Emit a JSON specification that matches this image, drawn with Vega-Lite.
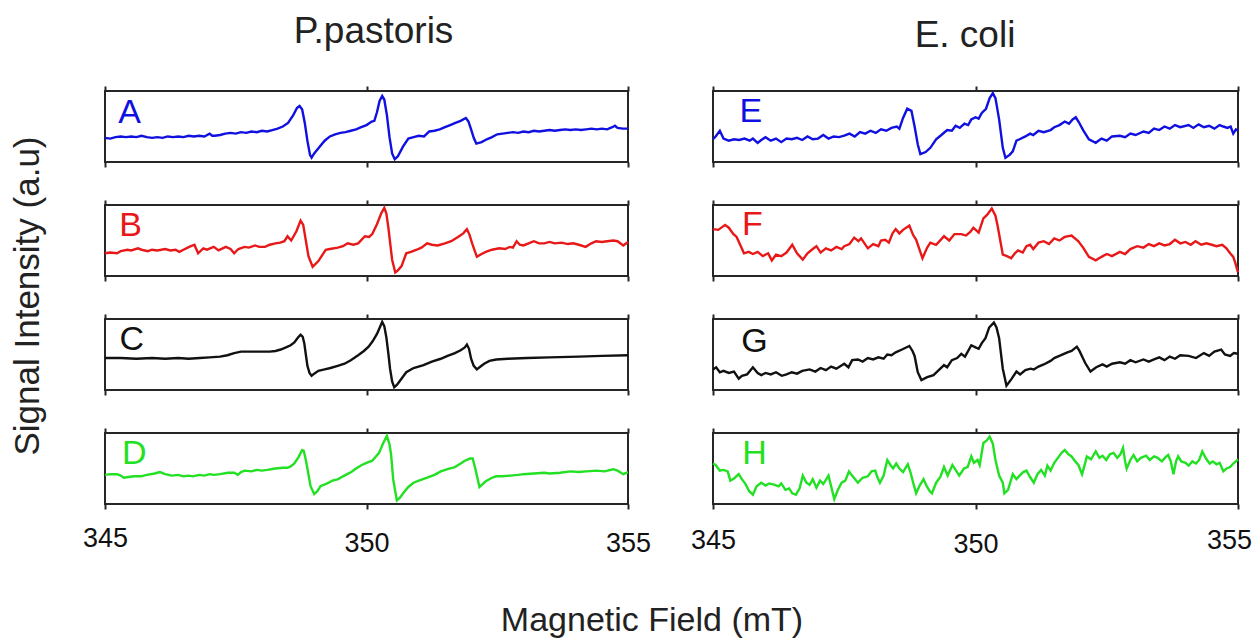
{
  "$schema": "https://vega.github.io/schema/vega-lite/v6.json",
  "background": "white",
  "padding": {"left": 11, "top": 13, "right": 0, "bottom": 0},
  "config": {
    "font": "Liberation Sans",
    "view": {"stroke": "#262626", "strokeWidth": 2},
    "axis": {"grid": false, "domain": false, "ticks": true, "tickSize": 5, "tickWidth": 2, "tickColor": "#262626", "labelFont": "Liberation Sans", "labelFontSize": 27, "labelColor": "#111111", "labelPadding": 18, "labelFlush": false},
    "title": {"font": "Liberation Sans", "fontWeight": "normal", "fontSize": 37, "color": "#222222"},
    "text": {"font": "Liberation Sans"}
  },
  "datasets": {
    "A": [{"field":345.0,"signal":34},{"field":345.1,"signal":33},{"field":345.2,"signal":35},{"field":345.3,"signal":36},{"field":345.4,"signal":35},{"field":345.5,"signal":36},{"field":345.6,"signal":35},{"field":345.7,"signal":37},{"field":345.8,"signal":35},{"field":345.9,"signal":34},{"field":346.0,"signal":35},{"field":346.1,"signal":34},{"field":346.2,"signal":36},{"field":346.3,"signal":35},{"field":346.4,"signal":36},{"field":346.5,"signal":35},{"field":346.6,"signal":37},{"field":346.7,"signal":36},{"field":346.8,"signal":37},{"field":346.9,"signal":36},{"field":347.0,"signal":40},{"field":347.05,"signal":37},{"field":347.1,"signal":37},{"field":347.2,"signal":38},{"field":347.3,"signal":40},{"field":347.4,"signal":41},{"field":347.5,"signal":40},{"field":347.6,"signal":42},{"field":347.7,"signal":41},{"field":347.8,"signal":43},{"field":347.9,"signal":42},{"field":348.0,"signal":44},{"field":348.1,"signal":43},{"field":348.2,"signal":45},{"field":348.3,"signal":47},{"field":348.4,"signal":50},{"field":348.5,"signal":55},{"field":348.6,"signal":66},{"field":348.67,"signal":76},{"field":348.72,"signal":79},{"field":348.77,"signal":74},{"field":348.82,"signal":55},{"field":348.87,"signal":30},{"field":348.92,"signal":10},{"field":348.95,"signal":6},{"field":349.0,"signal":12},{"field":349.1,"signal":21},{"field":349.2,"signal":30},{"field":349.3,"signal":36},{"field":349.4,"signal":39},{"field":349.5,"signal":41},{"field":349.6,"signal":42},{"field":349.7,"signal":44},{"field":349.8,"signal":46},{"field":349.9,"signal":49},{"field":350.0,"signal":52},{"field":350.1,"signal":57},{"field":350.15,"signal":58},{"field":350.2,"signal":70},{"field":350.25,"signal":86},{"field":350.3,"signal":93},{"field":350.34,"signal":88},{"field":350.39,"signal":66},{"field":350.44,"signal":35},{"field":350.49,"signal":12},{"field":350.54,"signal":4},{"field":350.6,"signal":8},{"field":350.7,"signal":22},{"field":350.8,"signal":33},{"field":350.9,"signal":35},{"field":351.0,"signal":37},{"field":351.1,"signal":36},{"field":351.2,"signal":43},{"field":351.3,"signal":44},{"field":351.4,"signal":46},{"field":351.5,"signal":49},{"field":351.6,"signal":52},{"field":351.7,"signal":55},{"field":351.8,"signal":58},{"field":351.9,"signal":62},{"field":351.95,"signal":57},{"field":352.0,"signal":46},{"field":352.05,"signal":34},{"field":352.1,"signal":26},{"field":352.2,"signal":28},{"field":352.3,"signal":32},{"field":352.4,"signal":35},{"field":352.5,"signal":39},{"field":352.6,"signal":40},{"field":352.7,"signal":41},{"field":352.8,"signal":42},{"field":352.9,"signal":41},{"field":353.0,"signal":43},{"field":353.1,"signal":42},{"field":353.2,"signal":44},{"field":353.3,"signal":43},{"field":353.4,"signal":44},{"field":353.5,"signal":45},{"field":353.6,"signal":44},{"field":353.7,"signal":45},{"field":353.8,"signal":46},{"field":353.9,"signal":45},{"field":354.0,"signal":46},{"field":354.1,"signal":45},{"field":354.2,"signal":46},{"field":354.3,"signal":47},{"field":354.4,"signal":46},{"field":354.5,"signal":47},{"field":354.6,"signal":46},{"field":354.7,"signal":49},{"field":354.75,"signal":51},{"field":354.8,"signal":48},{"field":354.9,"signal":47},{"field":355.0,"signal":47}],
    "B": [{"field":345.0,"signal":32},{"field":345.1,"signal":33},{"field":345.23,"signal":32},{"field":345.3,"signal":35},{"field":345.43,"signal":37},{"field":345.5,"signal":36},{"field":345.63,"signal":39},{"field":345.7,"signal":37},{"field":345.82,"signal":35},{"field":345.9,"signal":37},{"field":346.0,"signal":36},{"field":346.15,"signal":38},{"field":346.25,"signal":36},{"field":346.35,"signal":37},{"field":346.42,"signal":34},{"field":346.5,"signal":37},{"field":346.61,"signal":41},{"field":346.71,"signal":44},{"field":346.78,"signal":32},{"field":346.88,"signal":39},{"field":346.95,"signal":37},{"field":347.08,"signal":41},{"field":347.17,"signal":36},{"field":347.25,"signal":39},{"field":347.31,"signal":41},{"field":347.4,"signal":38},{"field":347.47,"signal":32},{"field":347.55,"signal":38},{"field":347.67,"signal":41},{"field":347.75,"signal":40},{"field":347.87,"signal":43},{"field":347.95,"signal":41},{"field":348.06,"signal":41},{"field":348.15,"signal":44},{"field":348.26,"signal":46},{"field":348.35,"signal":47},{"field":348.43,"signal":49},{"field":348.49,"signal":56},{"field":348.56,"signal":50},{"field":348.66,"signal":63},{"field":348.74,"signal":78},{"field":348.79,"signal":72},{"field":348.84,"signal":50},{"field":348.89,"signal":28},{"field":348.97,"signal":13},{"field":349.08,"signal":21},{"field":349.22,"signal":37},{"field":349.3,"signal":38},{"field":349.45,"signal":40},{"field":349.55,"signal":42},{"field":349.64,"signal":46},{"field":349.75,"signal":44},{"field":349.84,"signal":46},{"field":349.97,"signal":56},{"field":350.05,"signal":55},{"field":350.11,"signal":59},{"field":350.2,"signal":73},{"field":350.28,"signal":88},{"field":350.34,"signal":96},{"field":350.38,"signal":88},{"field":350.42,"signal":67},{"field":350.49,"signal":23},{"field":350.55,"signal":5},{"field":350.6,"signal":8},{"field":350.67,"signal":14},{"field":350.76,"signal":32},{"field":350.85,"signal":34},{"field":350.96,"signal":37},{"field":351.05,"signal":40},{"field":351.16,"signal":46},{"field":351.25,"signal":44},{"field":351.36,"signal":43},{"field":351.5,"signal":46},{"field":351.62,"signal":49},{"field":351.75,"signal":55},{"field":351.85,"signal":60},{"field":351.92,"signal":66},{"field":351.97,"signal":58},{"field":352.02,"signal":46},{"field":352.11,"signal":27},{"field":352.2,"signal":31},{"field":352.28,"signal":34},{"field":352.4,"signal":37},{"field":352.54,"signal":39},{"field":352.65,"signal":38},{"field":352.74,"signal":41},{"field":352.8,"signal":40},{"field":352.87,"signal":49},{"field":352.93,"signal":44},{"field":353.0,"signal":43},{"field":353.1,"signal":46},{"field":353.2,"signal":49},{"field":353.3,"signal":46},{"field":353.4,"signal":46},{"field":353.5,"signal":48},{"field":353.6,"signal":46},{"field":353.73,"signal":47},{"field":353.85,"signal":45},{"field":353.95,"signal":46},{"field":354.06,"signal":44},{"field":354.19,"signal":41},{"field":354.3,"signal":46},{"field":354.39,"signal":49},{"field":354.5,"signal":48},{"field":354.6,"signal":49},{"field":354.72,"signal":50},{"field":354.8,"signal":49},{"field":354.91,"signal":43},{"field":355.0,"signal":48}],
    "C": [{"field":345.0,"signal":45},{"field":345.3,"signal":45},{"field":345.6,"signal":44},{"field":345.9,"signal":45},{"field":346.15,"signal":44},{"field":346.4,"signal":45},{"field":346.6,"signal":44},{"field":346.81,"signal":45},{"field":347.0,"signal":46},{"field":347.2,"signal":47},{"field":347.34,"signal":49},{"field":347.47,"signal":52},{"field":347.6,"signal":54},{"field":347.8,"signal":54},{"field":348.0,"signal":54},{"field":348.15,"signal":54},{"field":348.26,"signal":55},{"field":348.36,"signal":57},{"field":348.46,"signal":60},{"field":348.55,"signal":63},{"field":348.62,"signal":67},{"field":348.69,"signal":74},{"field":348.74,"signal":78},{"field":348.78,"signal":75},{"field":348.81,"signal":66},{"field":348.84,"signal":50},{"field":348.87,"signal":34},{"field":348.91,"signal":24},{"field":348.95,"signal":20},{"field":349.0,"signal":23},{"field":349.08,"signal":27},{"field":349.2,"signal":29},{"field":349.31,"signal":31},{"field":349.45,"signal":34},{"field":349.58,"signal":37},{"field":349.7,"signal":42},{"field":349.84,"signal":49},{"field":349.95,"signal":55},{"field":350.04,"signal":61},{"field":350.12,"signal":69},{"field":350.2,"signal":79},{"field":350.26,"signal":89},{"field":350.3,"signal":96},{"field":350.34,"signal":90},{"field":350.38,"signal":74},{"field":350.42,"signal":50},{"field":350.45,"signal":30},{"field":350.49,"signal":12},{"field":350.53,"signal":4},{"field":350.58,"signal":7},{"field":350.63,"signal":12},{"field":350.7,"signal":19},{"field":350.76,"signal":25},{"field":350.9,"signal":31},{"field":351.09,"signal":35},{"field":351.25,"signal":40},{"field":351.42,"signal":44},{"field":351.55,"signal":48},{"field":351.69,"signal":52},{"field":351.8,"signal":56},{"field":351.88,"signal":60},{"field":351.92,"signal":64},{"field":351.96,"signal":58},{"field":352.0,"signal":44},{"field":352.05,"signal":34},{"field":352.11,"signal":29},{"field":352.18,"signal":33},{"field":352.25,"signal":37},{"field":352.35,"signal":41},{"field":352.48,"signal":43},{"field":352.7,"signal":44},{"field":353.07,"signal":45},{"field":353.5,"signal":46},{"field":354.06,"signal":47},{"field":354.5,"signal":48},{"field":355.0,"signal":49}],
    "D": [{"field":345.0,"signal":41},{"field":345.1,"signal":42},{"field":345.23,"signal":42},{"field":345.3,"signal":40},{"field":345.36,"signal":37},{"field":345.45,"signal":38},{"field":345.55,"signal":39},{"field":345.69,"signal":39},{"field":345.8,"signal":41},{"field":345.95,"signal":43},{"field":346.05,"signal":45},{"field":346.15,"signal":42},{"field":346.28,"signal":40},{"field":346.4,"signal":41},{"field":346.5,"signal":39},{"field":346.6,"signal":40},{"field":346.68,"signal":39},{"field":346.8,"signal":41},{"field":346.9,"signal":40},{"field":347.0,"signal":42},{"field":347.08,"signal":41},{"field":347.2,"signal":42},{"field":347.35,"signal":44},{"field":347.47,"signal":44},{"field":347.54,"signal":41},{"field":347.6,"signal":45},{"field":347.67,"signal":47},{"field":347.8,"signal":46},{"field":347.9,"signal":48},{"field":348.0,"signal":47},{"field":348.1,"signal":48},{"field":348.26,"signal":50},{"field":348.4,"signal":51},{"field":348.49,"signal":51},{"field":348.55,"signal":53},{"field":348.62,"signal":57},{"field":348.7,"signal":66},{"field":348.77,"signal":76},{"field":348.8,"signal":75},{"field":348.84,"signal":62},{"field":348.87,"signal":50},{"field":348.93,"signal":25},{"field":349.0,"signal":14},{"field":349.06,"signal":18},{"field":349.12,"signal":25},{"field":349.25,"signal":29},{"field":349.35,"signal":33},{"field":349.46,"signal":35},{"field":349.55,"signal":39},{"field":349.63,"signal":42},{"field":349.71,"signal":45},{"field":349.8,"signal":50},{"field":349.91,"signal":55},{"field":350.0,"signal":58},{"field":350.11,"signal":61},{"field":350.24,"signal":72},{"field":350.32,"signal":86},{"field":350.39,"signal":96},{"field":350.44,"signal":84},{"field":350.47,"signal":70},{"field":350.51,"signal":35},{"field":350.58,"signal":5},{"field":350.64,"signal":9},{"field":350.7,"signal":15},{"field":350.8,"signal":24},{"field":350.9,"signal":30},{"field":351.0,"signal":33},{"field":351.16,"signal":37},{"field":351.3,"signal":41},{"field":351.42,"signal":46},{"field":351.55,"signal":49},{"field":351.69,"signal":52},{"field":351.8,"signal":57},{"field":351.88,"signal":61},{"field":351.98,"signal":64},{"field":352.03,"signal":64},{"field":352.08,"signal":50},{"field":352.16,"signal":24},{"field":352.22,"signal":28},{"field":352.28,"signal":32},{"field":352.4,"signal":37},{"field":352.48,"signal":39},{"field":352.6,"signal":39},{"field":352.75,"signal":40},{"field":352.9,"signal":41},{"field":353.0,"signal":42},{"field":353.2,"signal":43},{"field":353.4,"signal":44},{"field":353.5,"signal":43},{"field":353.7,"signal":44},{"field":353.9,"signal":46},{"field":354.06,"signal":45},{"field":354.2,"signal":46},{"field":354.4,"signal":47},{"field":354.55,"signal":46},{"field":354.72,"signal":49},{"field":354.8,"signal":47},{"field":354.91,"signal":42},{"field":355.0,"signal":45}],
    "E": [{"field":345.0,"signal":32},{"field":345.05,"signal":36},{"field":345.13,"signal":44},{"field":345.2,"signal":33},{"field":345.3,"signal":30},{"field":345.4,"signal":32},{"field":345.5,"signal":31},{"field":345.6,"signal":33},{"field":345.7,"signal":30},{"field":345.76,"signal":33},{"field":345.85,"signal":27},{"field":345.92,"signal":31},{"field":346.0,"signal":35},{"field":346.1,"signal":30},{"field":346.2,"signal":33},{"field":346.3,"signal":28},{"field":346.4,"signal":33},{"field":346.5,"signal":32},{"field":346.6,"signal":34},{"field":346.7,"signal":31},{"field":346.8,"signal":36},{"field":346.9,"signal":32},{"field":347.0,"signal":33},{"field":347.1,"signal":38},{"field":347.2,"signal":33},{"field":347.3,"signal":36},{"field":347.4,"signal":35},{"field":347.5,"signal":37},{"field":347.6,"signal":40},{"field":347.7,"signal":36},{"field":347.8,"signal":42},{"field":347.9,"signal":40},{"field":348.0,"signal":44},{"field":348.1,"signal":41},{"field":348.2,"signal":46},{"field":348.3,"signal":44},{"field":348.4,"signal":48},{"field":348.5,"signal":50},{"field":348.55,"signal":47},{"field":348.62,"signal":62},{"field":348.7,"signal":75},{"field":348.78,"signal":72},{"field":348.84,"signal":50},{"field":348.9,"signal":25},{"field":348.95,"signal":11},{"field":349.05,"signal":14},{"field":349.14,"signal":20},{"field":349.25,"signal":32},{"field":349.35,"signal":38},{"field":349.46,"signal":45},{"field":349.55,"signal":44},{"field":349.62,"signal":51},{"field":349.7,"signal":48},{"field":349.79,"signal":54},{"field":349.86,"signal":52},{"field":349.92,"signal":60},{"field":350.0,"signal":63},{"field":350.06,"signal":61},{"field":350.12,"signal":69},{"field":350.2,"signal":75},{"field":350.27,"signal":90},{"field":350.33,"signal":97},{"field":350.38,"signal":90},{"field":350.45,"signal":60},{"field":350.52,"signal":20},{"field":350.57,"signal":6},{"field":350.65,"signal":10},{"field":350.71,"signal":15},{"field":350.78,"signal":30},{"field":350.84,"signal":32},{"field":350.95,"signal":36},{"field":351.04,"signal":40},{"field":351.1,"signal":38},{"field":351.2,"signal":44},{"field":351.3,"signal":42},{"field":351.43,"signal":45},{"field":351.5,"signal":49},{"field":351.6,"signal":52},{"field":351.7,"signal":57},{"field":351.78,"signal":54},{"field":351.85,"signal":60},{"field":351.91,"signal":63},{"field":351.97,"signal":56},{"field":352.05,"signal":45},{"field":352.16,"signal":32},{"field":352.29,"signal":27},{"field":352.4,"signal":33},{"field":352.5,"signal":30},{"field":352.6,"signal":36},{"field":352.75,"signal":37},{"field":352.85,"signal":35},{"field":352.95,"signal":40},{"field":353.05,"signal":38},{"field":353.2,"signal":43},{"field":353.3,"signal":41},{"field":353.4,"signal":47},{"field":353.5,"signal":45},{"field":353.6,"signal":50},{"field":353.7,"signal":47},{"field":353.8,"signal":52},{"field":353.9,"signal":49},{"field":354.06,"signal":52},{"field":354.15,"signal":48},{"field":354.25,"signal":53},{"field":354.35,"signal":49},{"field":354.45,"signal":51},{"field":354.55,"signal":47},{"field":354.65,"signal":52},{"field":354.72,"signal":50},{"field":354.8,"signal":48},{"field":354.86,"signal":50},{"field":354.91,"signal":40},{"field":354.96,"signal":46},{"field":355.0,"signal":44}],
    "F": [{"field":345.0,"signal":66},{"field":345.1,"signal":65},{"field":345.23,"signal":72},{"field":345.3,"signal":68},{"field":345.39,"signal":59},{"field":345.45,"signal":55},{"field":345.53,"signal":42},{"field":345.59,"signal":32},{"field":345.68,"signal":34},{"field":345.76,"signal":31},{"field":345.85,"signal":34},{"field":345.95,"signal":28},{"field":346.05,"signal":32},{"field":346.12,"signal":22},{"field":346.2,"signal":30},{"field":346.3,"signal":28},{"field":346.4,"signal":33},{"field":346.51,"signal":44},{"field":346.6,"signal":32},{"field":346.71,"signal":23},{"field":346.8,"signal":32},{"field":346.9,"signal":38},{"field":346.97,"signal":42},{"field":347.05,"signal":33},{"field":347.15,"signal":39},{"field":347.25,"signal":36},{"field":347.35,"signal":41},{"field":347.45,"signal":38},{"field":347.5,"signal":42},{"field":347.6,"signal":45},{"field":347.69,"signal":54},{"field":347.77,"signal":49},{"field":347.82,"signal":53},{"field":347.95,"signal":39},{"field":348.05,"signal":45},{"field":348.15,"signal":42},{"field":348.2,"signal":50},{"field":348.28,"signal":51},{"field":348.35,"signal":47},{"field":348.42,"signal":60},{"field":348.48,"signal":66},{"field":348.55,"signal":60},{"field":348.62,"signal":65},{"field":348.74,"signal":71},{"field":348.81,"signal":58},{"field":348.87,"signal":51},{"field":348.99,"signal":25},{"field":349.08,"signal":40},{"field":349.14,"signal":47},{"field":349.25,"signal":44},{"field":349.35,"signal":52},{"field":349.4,"signal":56},{"field":349.5,"signal":50},{"field":349.6,"signal":59},{"field":349.73,"signal":59},{"field":349.82,"signal":57},{"field":349.9,"signal":62},{"field":349.96,"signal":68},{"field":350.06,"signal":61},{"field":350.15,"signal":81},{"field":350.22,"signal":86},{"field":350.31,"signal":95},{"field":350.38,"signal":85},{"field":350.42,"signal":71},{"field":350.52,"signal":30},{"field":350.6,"signal":28},{"field":350.68,"signal":25},{"field":350.75,"signal":32},{"field":350.81,"signal":36},{"field":350.9,"signal":33},{"field":350.97,"signal":42},{"field":351.04,"signal":44},{"field":351.1,"signal":38},{"field":351.2,"signal":47},{"field":351.3,"signal":49},{"field":351.4,"signal":45},{"field":351.5,"signal":53},{"field":351.6,"signal":50},{"field":351.7,"signal":55},{"field":351.83,"signal":57},{"field":351.96,"signal":49},{"field":352.05,"signal":40},{"field":352.16,"signal":27},{"field":352.29,"signal":22},{"field":352.4,"signal":27},{"field":352.5,"signal":31},{"field":352.6,"signal":28},{"field":352.75,"signal":34},{"field":352.85,"signal":31},{"field":352.95,"signal":38},{"field":353.08,"signal":42},{"field":353.2,"signal":40},{"field":353.3,"signal":45},{"field":353.4,"signal":42},{"field":353.5,"signal":46},{"field":353.6,"signal":43},{"field":353.7,"signal":45},{"field":353.8,"signal":51},{"field":353.9,"signal":46},{"field":354.0,"signal":48},{"field":354.1,"signal":44},{"field":354.19,"signal":49},{"field":354.3,"signal":44},{"field":354.4,"signal":46},{"field":354.5,"signal":44},{"field":354.59,"signal":42},{"field":354.7,"signal":44},{"field":354.78,"signal":39},{"field":354.85,"signal":32},{"field":354.91,"signal":27},{"field":354.95,"signal":18},{"field":355.0,"signal":5}],
    "G": [{"field":345.0,"signal":29},{"field":345.06,"signal":32},{"field":345.13,"signal":25},{"field":345.2,"signal":27},{"field":345.3,"signal":24},{"field":345.4,"signal":26},{"field":345.49,"signal":16},{"field":345.55,"signal":20},{"field":345.65,"signal":22},{"field":345.76,"signal":32},{"field":345.85,"signal":24},{"field":345.92,"signal":21},{"field":346.0,"signal":24},{"field":346.1,"signal":22},{"field":346.2,"signal":25},{"field":346.31,"signal":20},{"field":346.4,"signal":22},{"field":346.5,"signal":25},{"field":346.6,"signal":23},{"field":346.7,"signal":27},{"field":346.84,"signal":29},{"field":346.95,"signal":26},{"field":347.05,"signal":31},{"field":347.15,"signal":28},{"field":347.25,"signal":33},{"field":347.35,"signal":30},{"field":347.5,"signal":37},{"field":347.58,"signal":32},{"field":347.65,"signal":42},{"field":347.76,"signal":43},{"field":347.85,"signal":40},{"field":347.95,"signal":45},{"field":348.05,"signal":43},{"field":348.15,"signal":46},{"field":348.25,"signal":44},{"field":348.32,"signal":50},{"field":348.4,"signal":49},{"field":348.48,"signal":53},{"field":348.6,"signal":57},{"field":348.74,"signal":62},{"field":348.8,"signal":55},{"field":348.84,"signal":48},{"field":348.9,"signal":25},{"field":348.97,"signal":14},{"field":349.08,"signal":18},{"field":349.2,"signal":21},{"field":349.3,"signal":28},{"field":349.4,"signal":35},{"field":349.46,"signal":32},{"field":349.55,"signal":42},{"field":349.65,"signal":45},{"field":349.73,"signal":51},{"field":349.8,"signal":47},{"field":349.92,"signal":63},{"field":350.0,"signal":60},{"field":350.06,"signal":58},{"field":350.12,"signal":66},{"field":350.19,"signal":73},{"field":350.26,"signal":88},{"field":350.35,"signal":95},{"field":350.4,"signal":88},{"field":350.45,"signal":73},{"field":350.52,"signal":30},{"field":350.59,"signal":6},{"field":350.68,"signal":15},{"field":350.78,"signal":26},{"field":350.85,"signal":22},{"field":350.95,"signal":28},{"field":351.05,"signal":30},{"field":351.11,"signal":29},{"field":351.2,"signal":33},{"field":351.3,"signal":36},{"field":351.43,"signal":41},{"field":351.5,"signal":45},{"field":351.63,"signal":49},{"field":351.75,"signal":53},{"field":351.83,"signal":55},{"field":351.93,"signal":61},{"field":351.98,"signal":55},{"field":352.09,"signal":38},{"field":352.19,"signal":26},{"field":352.3,"signal":32},{"field":352.42,"signal":36},{"field":352.5,"signal":33},{"field":352.6,"signal":37},{"field":352.75,"signal":39},{"field":352.85,"signal":37},{"field":352.95,"signal":42},{"field":353.05,"signal":39},{"field":353.2,"signal":43},{"field":353.3,"signal":40},{"field":353.4,"signal":43},{"field":353.5,"signal":46},{"field":353.6,"signal":42},{"field":353.7,"signal":47},{"field":353.8,"signal":44},{"field":353.9,"signal":49},{"field":354.06,"signal":48},{"field":354.2,"signal":45},{"field":354.35,"signal":52},{"field":354.45,"signal":48},{"field":354.55,"signal":54},{"field":354.68,"signal":57},{"field":354.75,"signal":50},{"field":354.85,"signal":48},{"field":354.92,"signal":52},{"field":355.0,"signal":51}],
    "H": [{"field":345.0,"signal":57},{"field":345.05,"signal":55},{"field":345.13,"signal":47},{"field":345.2,"signal":48},{"field":345.28,"signal":46},{"field":345.33,"signal":33},{"field":345.4,"signal":36},{"field":345.49,"signal":42},{"field":345.55,"signal":35},{"field":345.62,"signal":28},{"field":345.69,"signal":18},{"field":345.76,"signal":13},{"field":345.83,"signal":25},{"field":345.92,"signal":30},{"field":346.0,"signal":26},{"field":346.07,"signal":29},{"field":346.18,"signal":27},{"field":346.25,"signal":25},{"field":346.3,"signal":29},{"field":346.38,"signal":20},{"field":346.45,"signal":22},{"field":346.51,"signal":15},{"field":346.58,"signal":13},{"field":346.65,"signal":22},{"field":346.71,"signal":40},{"field":346.78,"signal":30},{"field":346.84,"signal":27},{"field":346.9,"signal":35},{"field":346.97,"signal":23},{"field":347.04,"signal":33},{"field":347.1,"signal":28},{"field":347.2,"signal":40},{"field":347.25,"signal":25},{"field":347.31,"signal":7},{"field":347.38,"signal":20},{"field":347.45,"signal":30},{"field":347.52,"signal":33},{"field":347.59,"signal":46},{"field":347.65,"signal":40},{"field":347.76,"signal":30},{"field":347.85,"signal":37},{"field":347.95,"signal":39},{"field":348.02,"signal":46},{"field":348.09,"signal":47},{"field":348.13,"signal":38},{"field":348.18,"signal":30},{"field":348.25,"signal":40},{"field":348.32,"signal":62},{"field":348.38,"signal":55},{"field":348.43,"signal":50},{"field":348.49,"signal":57},{"field":348.55,"signal":50},{"field":348.62,"signal":45},{"field":348.71,"signal":56},{"field":348.76,"signal":45},{"field":348.82,"signal":28},{"field":348.87,"signal":15},{"field":348.93,"signal":25},{"field":349.01,"signal":35},{"field":349.07,"signal":25},{"field":349.13,"signal":18},{"field":349.17,"signal":15},{"field":349.25,"signal":30},{"field":349.33,"signal":38},{"field":349.4,"signal":52},{"field":349.47,"signal":40},{"field":349.56,"signal":55},{"field":349.63,"signal":47},{"field":349.69,"signal":40},{"field":349.78,"signal":50},{"field":349.85,"signal":52},{"field":349.92,"signal":67},{"field":349.97,"signal":58},{"field":350.04,"signal":62},{"field":350.08,"signal":55},{"field":350.15,"signal":86},{"field":350.22,"signal":90},{"field":350.27,"signal":95},{"field":350.33,"signal":85},{"field":350.38,"signal":62},{"field":350.45,"signal":40},{"field":350.52,"signal":30},{"field":350.55,"signal":15},{"field":350.62,"signal":20},{"field":350.71,"signal":42},{"field":350.78,"signal":35},{"field":350.84,"signal":40},{"field":350.91,"signal":45},{"field":350.97,"signal":47},{"field":351.04,"signal":38},{"field":351.11,"signal":30},{"field":351.18,"signal":42},{"field":351.25,"signal":48},{"field":351.32,"signal":40},{"field":351.37,"signal":54},{"field":351.43,"signal":47},{"field":351.5,"signal":58},{"field":351.58,"signal":66},{"field":351.64,"signal":72},{"field":351.7,"signal":76},{"field":351.77,"signal":70},{"field":351.83,"signal":67},{"field":351.9,"signal":60},{"field":351.96,"signal":55},{"field":352.03,"signal":42},{"field":352.08,"signal":55},{"field":352.12,"signal":67},{"field":352.2,"signal":63},{"field":352.29,"signal":74},{"field":352.36,"signal":65},{"field":352.42,"signal":68},{"field":352.49,"signal":62},{"field":352.56,"signal":70},{"field":352.63,"signal":72},{"field":352.7,"signal":65},{"field":352.76,"signal":70},{"field":352.81,"signal":79},{"field":352.85,"signal":60},{"field":352.88,"signal":50},{"field":352.95,"signal":62},{"field":353.01,"signal":69},{"field":353.08,"signal":60},{"field":353.15,"signal":65},{"field":353.25,"signal":68},{"field":353.32,"signal":62},{"field":353.4,"signal":67},{"field":353.47,"signal":65},{"field":353.55,"signal":60},{"field":353.62,"signal":66},{"field":353.67,"signal":69},{"field":353.72,"signal":60},{"field":353.77,"signal":42},{"field":353.82,"signal":60},{"field":353.86,"signal":67},{"field":353.92,"signal":60},{"field":354.0,"signal":58},{"field":354.06,"signal":54},{"field":354.13,"signal":60},{"field":354.2,"signal":57},{"field":354.26,"signal":62},{"field":354.32,"signal":74},{"field":354.39,"signal":64},{"field":354.46,"signal":57},{"field":354.52,"signal":60},{"field":354.59,"signal":56},{"field":354.65,"signal":58},{"field":354.72,"signal":46},{"field":354.78,"signal":50},{"field":354.85,"signal":52},{"field":354.91,"signal":57},{"field":354.96,"signal":60},{"field":355.0,"signal":63}]
  },
  "title": {"text": "Magnetic Field (mT)", "orient": "bottom", "anchor": "middle", "offset": 46, "fontSize": 34, "dx": 20},
  "spacing": 37,
  "hconcat": [
    {
      "title": {"text": "Signal Intensity (a.u)", "orient": "left", "anchor": "middle", "offset": 35, "fontSize": 35, "dx": -11},
      "vconcat": [
        {
          "title": {"text": "P.pastoris", "anchor": "middle", "offset": 33, "dx": 7},
          "bounds": "flush",
          "spacing": 43,
          "vconcat": [
            {"width": 523, "height": 71, "data": {"name": "A"}, "layer": [
              {"mark": {"type": "line", "color": "#1010e0", "strokeWidth": 2.4}, "encoding": {"x": {"field": "field", "type": "quantitative", "scale": {"domain": [345, 355], "nice": false, "zero": false}, "axis": {"orient": "bottom", "values": [345, 350, 355], "labels": false, "title": null}}, "y": {"field": "signal", "type": "quantitative", "scale": {"domain": [0, 100], "nice": false, "zero": false}, "axis": null}}},
              {"data": {"values": [{"label": "A"}]}, "mark": {"type": "text", "color": "#1010e0", "fontSize": 34, "align": "center", "baseline": "middle"}, "encoding": {"text": {"field": "label"}, "x": {"datum": 345.47, "type": "quantitative", "axis": {"orient": "top", "values": [345, 350, 355], "labels": false, "title": null}}, "y": {"datum": 69, "type": "quantitative", "axis": null}}}
            ]},
            {"width": 523, "height": 71, "data": {"name": "B"}, "layer": [
              {"mark": {"type": "line", "color": "#e81818", "strokeWidth": 2.4}, "encoding": {"x": {"field": "field", "type": "quantitative", "scale": {"domain": [345, 355], "nice": false, "zero": false}, "axis": {"orient": "bottom", "values": [345, 350, 355], "labels": false, "title": null}}, "y": {"field": "signal", "type": "quantitative", "scale": {"domain": [0, 100], "nice": false, "zero": false}, "axis": null}}},
              {"data": {"values": [{"label": "B"}]}, "mark": {"type": "text", "color": "#e81818", "fontSize": 34, "align": "center", "baseline": "middle"}, "encoding": {"text": {"field": "label"}, "x": {"datum": 345.49, "type": "quantitative", "axis": {"orient": "top", "values": [345, 350, 355], "labels": false, "title": null}}, "y": {"datum": 71, "type": "quantitative", "axis": null}}}
            ]},
            {"width": 523, "height": 71, "data": {"name": "C"}, "layer": [
              {"mark": {"type": "line", "color": "#111111", "strokeWidth": 2.4}, "encoding": {"x": {"field": "field", "type": "quantitative", "scale": {"domain": [345, 355], "nice": false, "zero": false}, "axis": {"orient": "bottom", "values": [345, 350, 355], "labels": false, "title": null}}, "y": {"field": "signal", "type": "quantitative", "scale": {"domain": [0, 100], "nice": false, "zero": false}, "axis": null}}},
              {"data": {"values": [{"label": "C"}]}, "mark": {"type": "text", "color": "#111111", "fontSize": 34, "align": "center", "baseline": "middle"}, "encoding": {"text": {"field": "label"}, "x": {"datum": 345.51, "type": "quantitative", "axis": {"orient": "top", "values": [345, 350, 355], "labels": false, "title": null}}, "y": {"datum": 70, "type": "quantitative", "axis": null}}}
            ]},
            {"width": 523, "height": 71, "data": {"name": "D"}, "layer": [
              {"mark": {"type": "line", "color": "#22e022", "strokeWidth": 2.4}, "encoding": {"x": {"field": "field", "type": "quantitative", "scale": {"domain": [345, 355], "nice": false, "zero": false}, "axis": {"orient": "bottom", "values": [345, 350, 355], "labels": true, "title": null, "labelPadding": {"condition": {"test": "datum.value === 345", "value": 16}, "value": 21}}}, "y": {"field": "signal", "type": "quantitative", "scale": {"domain": [0, 100], "nice": false, "zero": false}, "axis": null}}},
              {"data": {"values": [{"label": "D"}]}, "mark": {"type": "text", "color": "#22e022", "fontSize": 34, "align": "center", "baseline": "middle"}, "encoding": {"text": {"field": "label"}, "x": {"datum": 345.56, "type": "quantitative", "axis": {"orient": "top", "values": [345, 350, 355], "labels": false, "title": null}}, "y": {"datum": 70, "type": "quantitative", "axis": null}}}
            ]}
          ]
        }
      ]
    },
    {
      "title": {"text": "E. coli", "anchor": "middle", "offset": 29, "dx": -6},
      "bounds": "flush",
      "spacing": 43,
      "vconcat": [
        {"width": 525, "height": 71, "data": {"name": "E"}, "layer": [
          {"mark": {"type": "line", "color": "#1010e0", "strokeWidth": 2.4}, "encoding": {"x": {"field": "field", "type": "quantitative", "scale": {"domain": [345, 355], "nice": false, "zero": false}, "axis": {"orient": "bottom", "values": [345, 350, 355], "labels": false, "title": null}}, "y": {"field": "signal", "type": "quantitative", "scale": {"domain": [0, 100], "nice": false, "zero": false}, "axis": null}}},
          {"data": {"values": [{"label": "E"}]}, "mark": {"type": "text", "color": "#1010e0", "fontSize": 34, "align": "center", "baseline": "middle"}, "encoding": {"text": {"field": "label"}, "x": {"datum": 345.72, "type": "quantitative", "axis": {"orient": "top", "values": [345, 350, 355], "labels": false, "title": null}}, "y": {"datum": 71, "type": "quantitative", "axis": null}}}
        ]},
        {"width": 525, "height": 71, "data": {"name": "F"}, "layer": [
          {"mark": {"type": "line", "color": "#e81818", "strokeWidth": 2.4}, "encoding": {"x": {"field": "field", "type": "quantitative", "scale": {"domain": [345, 355], "nice": false, "zero": false}, "axis": {"orient": "bottom", "values": [345, 350, 355], "labels": false, "title": null}}, "y": {"field": "signal", "type": "quantitative", "scale": {"domain": [0, 100], "nice": false, "zero": false}, "axis": null}}},
          {"data": {"values": [{"label": "F"}]}, "mark": {"type": "text", "color": "#e81818", "fontSize": 34, "align": "center", "baseline": "middle"}, "encoding": {"text": {"field": "label"}, "x": {"datum": 345.75, "type": "quantitative", "axis": {"orient": "top", "values": [345, 350, 355], "labels": false, "title": null}}, "y": {"datum": 72, "type": "quantitative", "axis": null}}}
        ]},
        {"width": 525, "height": 71, "data": {"name": "G"}, "layer": [
          {"mark": {"type": "line", "color": "#111111", "strokeWidth": 2.4}, "encoding": {"x": {"field": "field", "type": "quantitative", "scale": {"domain": [345, 355], "nice": false, "zero": false}, "axis": {"orient": "bottom", "values": [345, 350, 355], "labels": false, "title": null}}, "y": {"field": "signal", "type": "quantitative", "scale": {"domain": [0, 100], "nice": false, "zero": false}, "axis": null}}},
          {"data": {"values": [{"label": "G"}]}, "mark": {"type": "text", "color": "#111111", "fontSize": 34, "align": "center", "baseline": "middle"}, "encoding": {"text": {"field": "label"}, "x": {"datum": 345.79, "type": "quantitative", "axis": {"orient": "top", "values": [345, 350, 355], "labels": false, "title": null}}, "y": {"datum": 67, "type": "quantitative", "axis": null}}}
        ]},
        {"width": 525, "height": 71, "data": {"name": "H"}, "layer": [
          {"mark": {"type": "line", "color": "#22e022", "strokeWidth": 2.4}, "encoding": {"x": {"field": "field", "type": "quantitative", "scale": {"domain": [345, 355], "nice": false, "zero": false}, "axis": {"orient": "bottom", "values": [345, 350, 355], "labels": true, "title": null, "labelPadding": {"condition": {"test": "datum.value === 350", "value": 22}, "value": 18}, "labelOffset": {"condition": {"test": "datum.value === 355", "value": -9}, "value": 0}}}, "y": {"field": "signal", "type": "quantitative", "scale": {"domain": [0, 100], "nice": false, "zero": false}, "axis": null}}},
          {"data": {"values": [{"label": "H"}]}, "mark": {"type": "text", "color": "#22e022", "fontSize": 34, "align": "center", "baseline": "middle"}, "encoding": {"text": {"field": "label"}, "x": {"datum": 345.79, "type": "quantitative", "axis": {"orient": "top", "values": [345, 350, 355], "labels": false, "title": null}}, "y": {"datum": 70, "type": "quantitative", "axis": null}}}
        ]}
      ]
    }
  ]
}
